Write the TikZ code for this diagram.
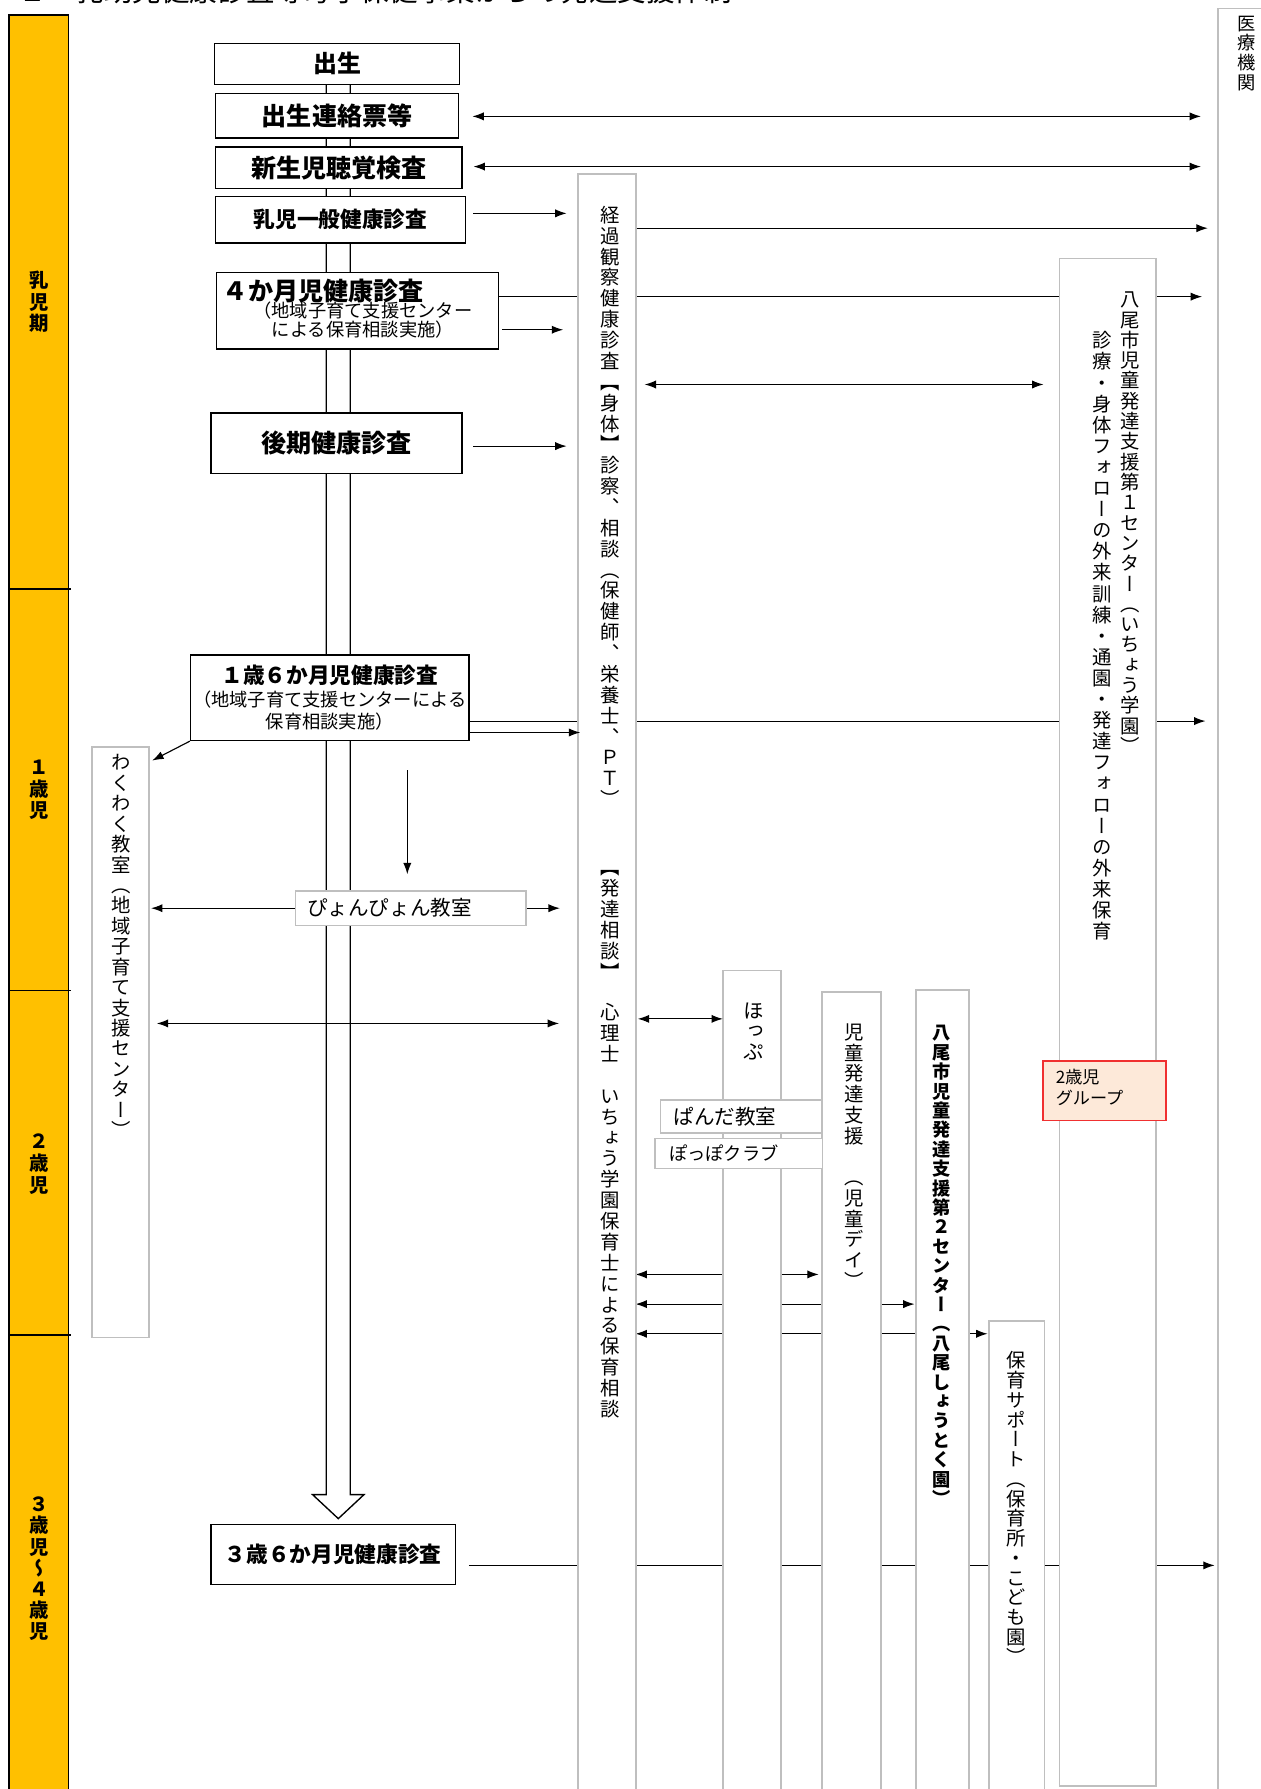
\documentclass[tikz,border=0pt]{standalone}
\usepackage{fontspec}
\newfontfamily\jp{Noto Sans CJK JP}
\newfontfamily\jpv[RawFeature=+vert]{Noto Sans CJK JP}
\usetikzlibrary{arrows.meta,fit,calc}
\definecolor{band}{HTML}{FFC000}
\definecolor{gbord}{HTML}{BFBFBF}
\definecolor{peach}{HTML}{FDE9D9}
\definecolor{redb}{HTML}{F03030}

\ExplSyntaxOn
\NewDocumentCommand\vstack{O{1.08}m}{
  \vbox{\offinterlineskip
    \tl_map_inline:nn {#2}{
      \hbox_to_wd:nn {1.1em}{\hss\rule[\fp_eval:n{0.38-(#1)/2}em]{0pt}{#1 em}##1\hss}
    }}}
\ExplSyntaxOff

\tikzset{
 blk/.style={draw=black, line width=0.6pt, fill=white, inner sep=0pt},
 gcol/.style={draw=gbord, line width=0.7pt, fill=white},
 vcol/.style={inner sep=0pt, anchor=north},
 arr/.style={line width=0.5pt, -{Latex[length=5pt,width=3.6pt]}},
 darr/.style={line width=0.5pt, {Latex[length=5pt,width=3.6pt]}-{Latex[length=5pt,width=3.6pt]}},
 ln/.style={line width=0.5pt},
 btxt/.style={font=\jp\bfseries\fontsize{11}{11}\selectfont},
 btxs/.style={font=\jp\bfseries\fontsize{9.5}{9.5}\selectfont},
}

\begin{document}
\begin{tikzpicture}[x=0.5pt,y=-0.5pt, every node/.style={inner sep=0pt}]
\clip (0,0) rectangle (1105,1568);
\fill[white] (0,0) rectangle (1105,1568);

% title (cut at top edge)
\node[anchor=west, font=\jp\fontsize{12.5}{12.5}\selectfont] (title) at (16,-8) {２　乳幼児健康診査等母子保健事業からの発達支援体制};

% age band
\fill[band] (8,13) rectangle (60,1580);
\draw[line width=0.8pt] (8,1580) -- (8,13) -- (60,13) -- (60,1580);
\foreach \yy in {516,868,1170} \draw[line width=0.7pt] (8,\yy) -- (62,\yy);
\node[vcol, font=\jpv\bfseries\fontsize{8.5}{8.5}\selectfont] (age1) at (34,235.5) {\vstack[1.118]{乳児期}};
\node[vcol, font=\jpv\bfseries\fontsize{8.5}{8.5}\selectfont] (age2) at (34,662.5) {\vstack[1.118]{１歳児}};
\node[vcol, font=\jpv\bfseries\fontsize{8.5}{8.5}\selectfont] (age3) at (34,990.5) {\vstack[1.118]{２歳児}};
\node[vcol, font=\jpv\bfseries\fontsize{8.5}{8.5}\selectfont] (age4) at (34,1308.7) {\vstack[1.094]{３歳児～４歳児}};

% main block arrow (shaft)
\draw[line width=0.6pt, fill=white] (286,74) -- (286,1310) -- (274,1310) -- (296.5,1331) -- (319,1310) -- (307,1310) -- (307,74);

% column nodes (outlines drawn later)
\node[fit={(507,153)(557,1600)}] (keika) {};
\node[fit={(81,655)(130,1172)}] (waku) {};
\node[fit={(634,851)(684,1600)}] (hop) {};
\node[fit={(721,870)(772,1600)}] (jidou) {};
\node[fit={(803,868)(849,1600)}] (c2) {};
\node[fit={(867,1158)(915,1600)}] (hoiku) {};
\node[fit={(929,227)(1013,1565)}] (c1) {};
\node[fit={(1068,8)(1140,1600)}] (med) {};

% long arrows running behind the columns
\coordinate (p260) at (437,260);
\draw[arr, shorten >=7pt] (p260) -- (p260 -| med.west);
\coordinate (p632) at (411,632);
\draw[arr, shorten >=5.5pt] (p632) -- (p632 -| med.west);
\coordinate (p1372) at (411,1372);
\draw[arr, shorten >=1.5pt] (p1372) -- (p1372 -| med.west);
\coordinate (p1117) at (557,1117);
\draw[darr, shorten >=1.5pt] (p1117) -- (p1117 -| jidou.west);
\coordinate (p1143) at (557,1143);
\draw[darr, shorten >=0.5pt] (p1143) -- (p1143 -| c2.west);
\coordinate (p1169) at (557,1169);
\draw[darr, shorten >=0.5pt] (p1169) -- (p1169 -| hoiku.west);

% columns
\foreach \c in {keika,waku,hop,jidou,c2,hoiku,c1,med}
  \draw[gcol] (\c.north west) rectangle (\c.south east);

% column texts
\node[vcol, font=\jpv\fontsize{8.5}{8.5}\selectfont] (tk1) at (535,178.85) {\vstack[1.076]{経過観察健康診査【身体】診察、相談（保健師、栄養士、ＰＴ）}};
\node[vcol, font=\jpv\fontsize{8.5}{8.5}\selectfont] (tk2) at (535,750.85) {\vstack[1.076]{【発達相談】}};
\node[vcol, font=\jpv\fontsize{8.5}{8.5}\selectfont] (tk3) at (535,877.85) {\vstack[1.076]{心理士　いちょう学園保育士による保育相談}};
\node[vcol, font=\jpv\fontsize{8.5}{8.5}\selectfont] (twaku) at (106,659.05) {\vstack[1.053]{わくわく教室（地域子育て支援センター）}};
\node[vcol, font=\jpv\fontsize{9}{9}\selectfont] (thop) at (661,876) {\vstack[1.0]{ほっぷ}};
\node[vcol, font=\jpv\fontsize{8.5}{8.5}\selectfont] (tjidou) at (749,894.9) {\vstack[1.071]{児童発達支援　（児童デイ）}};
\node[vcol, font=\jpv\bfseries\fontsize{8}{8}\selectfont] (tc2) at (825,896.5) {\vstack[1.0625]{八尾市児童発達支援第２センター（八尾しょうとく園）}};
\node[vcol, font=\jpv\fontsize{8.5}{8.5}\selectfont] (thoiku) at (891,1183.35) {\vstack[1.018]{保育サポート（保育所・こども園）}};
\node[vcol, font=\jpv\fontsize{8.5}{8.5}\selectfont] (tc1a) at (991,253.1) {\vstack[1.047]{八尾市児童発達支援第１センター（いちょう学園）}};
\node[vcol, font=\jpv\fontsize{8.5}{8.5}\selectfont] (tc1b) at (966,288.75) {\vstack[1.088]{診療・身体フォローの外来訓練・通園・発達フォローの外来保育}};
\node[vcol, font=\jpv\fontsize{8}{8}\selectfont] (tmed) at (1093,11.35) {\vstack[1.081]{医療機関}};

% black boxes on the main line
\node[blk, fit={(188,38)(403,74)}] (b0) {};
\node[btxt, font=\jp\bfseries\fontsize{10.5}{10.5}\selectfont] (b0t) at (b0.center) {出生};
\node[blk, fit={(189,82)(402,121)}] (b1) {};
\node[btxt] (b1t) at (b1.center) {出生連絡票等};
\node[blk, fit={(189,129)(405,165)}] (b2) {};
\node[btxt] (b2t) at (b2.center) {新生児聴覚検査};
\node[blk, fit={(189,172)(408,213)}] (b3) {};
\node[btxs] (b3t) at (b3.center) {乳児一般健康診査};
\node[blk, fit={(190,239)(437,306)}] (b4) {};
\node[btxt, anchor=west] (b4t) at (195,255) {４か月児健康診査};
\node[align=center, font=\jp\fontsize{8}{7.2}\selectfont] (b4s) at (318,280.5) {（地域子育て支援センター\\による保育相談実施）};
\node[blk, fit={(185,362)(405,415)}] (b5) {};
\node[btxt] (b5t) at (b5.center) {後期健康診査};
\node[blk, fit={(167,574)(411,649)}] (b6) {};
\node[align=center, font=\jp\fontsize{8}{9.8}\selectfont] (b6t) at (b6.center) {{\bfseries\fontsize{9.5}{9.8}\selectfont １歳６か月児健康診査}\\（地域子育て支援センターによる\\保育相談実施）};
\node[blk, fit={(185,1336)(399,1389)}] (b7) {};
\node[btxs] (b7t) at (b7.center) {３歳６か月児健康診査};

% small grey boxes
\node[gcol, fit={(259,781)(461,811)}] (pyon) {};
\node[anchor=west, font=\jp\fontsize{9}{9}\selectfont] (tpyon) at (269,796) {ぴょんぴょん教室};
\node[gcol, fit={(579,964)(720,993)}] (panda) {};
\node[anchor=west, font=\jp\fontsize{9}{9}\selectfont] (tpanda) at (590,978.5) {ぱんだ教室};
\node[gcol, fit={(574,998)(721,1024)}] (poppo) {};
\node[anchor=west, font=\jp\fontsize{8}{8}\selectfont] (tpoppo) at (586,1011) {ぽっぽクラブ};
\node[draw=redb, line width=0.7pt, fill=peach, fit={(914,930)(1022,982)}] (g2) {};
\node[anchor=west, align=left, font=\jp\fontsize{7.5}{9}\selectfont] (tg2) at (925,953) {2歳児\\グループ};

% arrows in front
\coordinate (p102) at (414,102);
\draw[darr, shorten >=7.5pt] (p102) -- (p102 -| med.west);
\coordinate (p146) at (415,146);
\draw[darr, shorten >=7.5pt] (p146) -- (p146 -| med.west);
\coordinate (p187) at (415,187);
\draw[arr, shorten >=5pt] (p187) -- (p187 -| keika.west);
\coordinate (p200) at (558,200);
\draw[arr, shorten >=4.5pt] (p200) -- (p200 -| med.west);
\coordinate (p289) at (440,289);
\draw[arr, shorten >=6.5pt] (p289) -- (p289 -| keika.west);
\coordinate (p337) at (565,337);
\draw[darr, shorten >=7pt] (p337) -- (p337 -| c1.west);
\coordinate (p391) at (415,391);
\draw[arr, shorten >=5pt] (p391) -- (p391 -| keika.west);
\coordinate (p642) at (411,642);
\draw[arr, shorten >=-1pt] (p642) -- (p642 -| keika.west);
\draw[arr] (b6.south west) -- ($(waku.north east)+(3,12)$);
\coordinate (v1) at (357,675);
\draw[arr, shorten >=7pt] (v1) -- (v1 |- pyon.north);
\draw[arr, shorten >=1pt] (pyon.west) -- (pyon.west -| waku.east);
\draw[arr] (pyon.east) -- ++(29,0);
\coordinate (p897) at (490,897);
\draw[darr, shorten >=3.5pt] (p897) -- (p897 -| waku.east);
\coordinate (p893) at (559,893);
\draw[darr] (p893) -- (p893 -| hop.west);
\end{tikzpicture}
\end{document}
